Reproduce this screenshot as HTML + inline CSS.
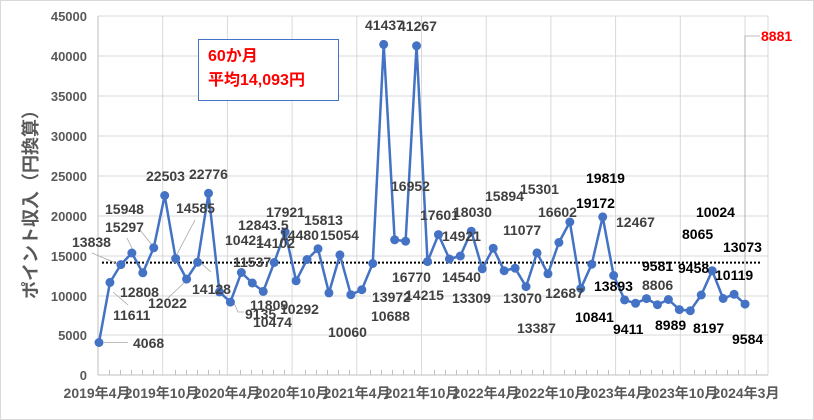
<!DOCTYPE html>
<html><head><meta charset="utf-8"><style>
html,body{margin:0;padding:0;background:#fff}
svg{display:block}
.l{font:bold 14px "Liberation Sans","Noto Sans CJK JP",sans-serif;fill:#404040}
.k{font:bold 14px "Liberation Sans","Noto Sans CJK JP",sans-serif;fill:#000}
.ax{font:bold 13px "Liberation Sans","Noto Sans CJK JP",sans-serif;fill:#595959}
.xa{font:bold 14px "Liberation Sans","Noto Sans CJK JP",sans-serif;fill:#595959}
</style></head><body>
<svg width="814" height="420" xmlns="http://www.w3.org/2000/svg">
<rect x="0.5" y="0.5" width="813" height="419" fill="#fff" stroke="#d9d9d9"/>
<g stroke="#d9d9d9" stroke-width="1">
<line x1="98" y1="16" x2="768" y2="16"/><line x1="98" y1="56" x2="768" y2="56"/><line x1="98" y1="96" x2="768" y2="96"/><line x1="98" y1="136" x2="768" y2="136"/><line x1="98" y1="176" x2="768" y2="176"/><line x1="98" y1="216" x2="768" y2="216"/><line x1="98" y1="256" x2="768" y2="256"/><line x1="98" y1="296" x2="768" y2="296"/><line x1="98" y1="335" x2="768" y2="335"/>
<line x1="162.7" y1="16" x2="162.7" y2="375"/><line x1="227.4" y1="16" x2="227.4" y2="375"/><line x1="292.1" y1="16" x2="292.1" y2="375"/><line x1="356.8" y1="16" x2="356.8" y2="375"/><line x1="421.5" y1="16" x2="421.5" y2="375"/><line x1="486.2" y1="16" x2="486.2" y2="375"/><line x1="550.9" y1="16" x2="550.9" y2="375"/><line x1="615.6" y1="16" x2="615.6" y2="375"/><line x1="680.3" y1="16" x2="680.3" y2="375"/><line x1="745" y1="16" x2="745" y2="375"/><line x1="768" y1="16" x2="768" y2="375"/>
</g>
<line x1="98" y1="16" x2="98" y2="375" stroke="#bfbfbf"/>
<line x1="98" y1="375" x2="768" y2="375" stroke="#bfbfbf"/>
<path stroke="#bfbfbf" d="M109.5 370V375M120.5 370V375M131.5 370V375M142.5 370V375M153.5 370V375M175.5 370V375M186.5 370V375M197.5 370V375M208.5 370V375M219.5 370V375M240.5 370V375M251.5 370V375M262.5 370V375M273.5 370V375M284.5 370V375M305.5 370V375M316.5 370V375M327.5 370V375M338.5 370V375M349.5 370V375M370.5 370V375M381.5 370V375M392.5 370V375M403.5 370V375M414.5 370V375M434.5 370V375M445.5 370V375M456.5 370V375M467.5 370V375M478.5 370V375M499.5 370V375M510.5 370V375M521.5 370V375M532.5 370V375M543.5 370V375M564.5 370V375M575.5 370V375M586.5 370V375M597.5 370V375M608.5 370V375M629.5 370V375M640.5 370V375M651.5 370V375M662.5 370V375M673.5 370V375M694.5 370V375M705.5 370V375M716.5 370V375M727.5 370V375M738.5 370V375M756.5 370V375"/>
<g class="ax" text-anchor="end">
<text x="87" y="21">45000</text><text x="87" y="61">40000</text><text x="87" y="101">35000</text><text x="87" y="141">30000</text><text x="87" y="181">25000</text><text x="87" y="221">20000</text><text x="87" y="261">15000</text><text x="87" y="301">10000</text><text x="87" y="340">5000</text><text x="87" y="380">0</text>
</g>
<g class="xa" text-anchor="middle">
<text x="97" y="398">2019年4月</text><text x="162" y="398">2019年10月</text><text x="227" y="398">2020年4月</text><text x="292" y="398">2020年10月</text><text x="357" y="398">2021年4月</text><text x="422" y="398">2021年10月</text><text x="486" y="398">2022年4月</text><text x="551" y="398">2022年10月</text><text x="616" y="398">2023年4月</text><text x="681" y="398">2023年10月</text><text x="746" y="398">2024年3月</text>
</g>
<text transform="translate(37,200) rotate(-90)" text-anchor="middle" style="font:bold 18px 'Liberation Sans','Noto Sans CJK JP',sans-serif;fill:#595959">ポイント収入（円換算）</text>
<line x1="102" y1="262.6" x2="762" y2="262.6" stroke="#000" stroke-width="2" stroke-dasharray="2,2"/>
<g stroke="#a6a6a6" stroke-width="0.8" fill="none">
<path d="M104 342.5H128"/><path d="M92 253L118 264"/><path d="M113 292L128 305"/><path d="M127 238L134 252"/><path d="M140 230L152 245"/><path d="M195 220L176 256"/><path d="M202 264L211 272"/><path d="M168 298L186 281"/><path d="M234 303L238 312H244"/><path d="M745 300V36H760"/>
</g>
<polyline fill="none" stroke="#4472c4" stroke-width="2.5" stroke-linejoin="round" points="99,342.5 109.95,282.4 120.9,264.6 131.85,253 142.8,272.8 153.75,247.8 164.7,195.5 175.65,258.6 186.6,279.1 197.55,262.3 208.5,193.3 219.45,291.9 230.4,302.1 241.35,272.5 252.3,283 263.25,291.4 274.2,262.5 285.15,232 296.1,280.8 307.05,259.5 318,248.8 328.95,292.9 339.9,254.9 350.85,294.7 361.8,289.7 372.75,263.5 383.7,44.4 394.65,239.8 405.6,241.2 416.55,45.8 427.5,261.6 438.45,234.6 449.4,259 460.35,256 471.3,231.2 482.25,268.8 493.2,248.2 504.15,270.7 515.1,268.2 526.05,286.6 537,252.9 547.95,273.8 558.9,242.5 569.85,222 580.8,288.5 591.75,264.2 602.7,216.9 613.65,275.5 624.6,299.9 635.55,303.3 646.5,298.6 657.45,304.7 668.4,299.5 679.35,309.6 690.3,310.7 701.25,295 712.2,270.7 723.15,298.5 734.1,294.3 745.05,304.1"/>
<g fill="#4472c4">
<circle cx="99" cy="342.5" r="4.5"/><circle cx="109.95" cy="282.4" r="4.5"/><circle cx="120.9" cy="264.6" r="4.5"/><circle cx="131.85" cy="253" r="4.5"/><circle cx="142.8" cy="272.8" r="4.5"/><circle cx="153.75" cy="247.8" r="4.5"/><circle cx="164.7" cy="195.5" r="4.5"/><circle cx="175.65" cy="258.6" r="4.5"/><circle cx="186.6" cy="279.1" r="4.5"/><circle cx="197.55" cy="262.3" r="4.5"/><circle cx="208.5" cy="193.3" r="4.5"/><circle cx="219.45" cy="291.9" r="4.5"/><circle cx="230.4" cy="302.1" r="4.5"/><circle cx="241.35" cy="272.5" r="4.5"/><circle cx="252.3" cy="283" r="4.5"/><circle cx="263.25" cy="291.4" r="4.5"/><circle cx="274.2" cy="262.5" r="4.5"/><circle cx="285.15" cy="232" r="4.5"/><circle cx="296.1" cy="280.8" r="4.5"/><circle cx="307.05" cy="259.5" r="4.5"/><circle cx="318" cy="248.8" r="4.5"/><circle cx="328.95" cy="292.9" r="4.5"/><circle cx="339.9" cy="254.9" r="4.5"/><circle cx="350.85" cy="294.7" r="4.5"/><circle cx="361.8" cy="289.7" r="4.5"/><circle cx="372.75" cy="263.5" r="4.5"/><circle cx="383.7" cy="44.4" r="4.5"/><circle cx="394.65" cy="239.8" r="4.5"/><circle cx="405.6" cy="241.2" r="4.5"/><circle cx="416.55" cy="45.8" r="4.5"/><circle cx="427.5" cy="261.6" r="4.5"/><circle cx="438.45" cy="234.6" r="4.5"/><circle cx="449.4" cy="259" r="4.5"/><circle cx="460.35" cy="256" r="4.5"/><circle cx="471.3" cy="231.2" r="4.5"/><circle cx="482.25" cy="268.8" r="4.5"/><circle cx="493.2" cy="248.2" r="4.5"/><circle cx="504.15" cy="270.7" r="4.5"/><circle cx="515.1" cy="268.2" r="4.5"/><circle cx="526.05" cy="286.6" r="4.5"/><circle cx="537" cy="252.9" r="4.5"/><circle cx="547.95" cy="273.8" r="4.5"/><circle cx="558.9" cy="242.5" r="4.5"/><circle cx="569.85" cy="222" r="4.5"/><circle cx="580.8" cy="288.5" r="4.5"/><circle cx="591.75" cy="264.2" r="4.5"/><circle cx="602.7" cy="216.9" r="4.5"/><circle cx="613.65" cy="275.5" r="4.5"/><circle cx="624.6" cy="299.9" r="4.5"/><circle cx="635.55" cy="303.3" r="4.5"/><circle cx="646.5" cy="298.6" r="4.5"/><circle cx="657.45" cy="304.7" r="4.5"/><circle cx="668.4" cy="299.5" r="4.5"/><circle cx="679.35" cy="309.6" r="4.5"/><circle cx="690.3" cy="310.7" r="4.5"/><circle cx="701.25" cy="295" r="4.5"/><circle cx="712.2" cy="270.7" r="4.5"/><circle cx="723.15" cy="298.5" r="4.5"/><circle cx="734.1" cy="294.3" r="4.5"/><circle cx="745.05" cy="304.1" r="4.5"/>
</g>
<g class="l">
<text x="133" y="348">4068</text><text x="113" y="320">11611</text><text x="72" y="247">13838</text><text x="105" y="232">15297</text><text x="105" y="214">15948</text><text x="120" y="297">12808</text><text x="146" y="181">22503</text><text x="148" y="308">12022</text><text x="176" y="213">14585</text><text x="192" y="294">14128</text><text x="189" y="179">22776</text><text x="225" y="245">10421</text><text x="245" y="319">9135</text><text x="238" y="230">12843.5</text><text x="233" y="267">11537</text><text x="256" y="248">14102</text><text x="266" y="217">17921</text><text x="250" y="310">11809</text><text x="280" y="314">10292</text><text x="253" y="327">10474</text><text x="280" y="240">14480</text><text x="304" y="225">15813</text><text x="320" y="240">15054</text><text x="328" y="337">10060</text><text x="372" y="302">13972</text><text x="371" y="321">10688</text><text x="365" y="30">41437</text><text x="398" y="31">41267</text><text x="391" y="191">16952</text><text x="392" y="282">16770</text><text x="405" y="300">14215</text><text x="420" y="220">17601</text><text x="442" y="241">14921</text><text x="453" y="217">18030</text><text x="442" y="282">14540</text><text x="452" y="303">13309</text><text x="485" y="201">15894</text><text x="520" y="194">15301</text><text x="503" y="235">11077</text><text x="503" y="303">13070</text><text x="517" y="333">13387</text><text x="538" y="217">16602</text><text x="545" y="298">12687</text><text x="616" y="227">12467</text><text x="642" y="290">8806</text>
</g>
<g class="k">
<text x="576" y="208">19172</text><text x="575" y="322">10841</text><text x="586" y="183">19819</text><text x="594" y="291">13893</text><text x="613" y="334">9411</text><text x="642" y="271">9581</text><text x="655" y="330">8989</text><text x="678" y="273">9458</text><text x="682" y="239">8065</text><text x="696" y="217">10024</text><text x="693" y="333">8197</text><text x="723" y="252">13073</text><text x="715" y="280">10119</text><text x="732" y="344">9584</text>
</g>
<text x="761" y="41" style="font:bold 14px 'Liberation Sans',sans-serif;fill:#ff0000">8881</text>
<rect x="198.5" y="39.5" width="140" height="61" fill="#fff" stroke="#4472c4"/>
<text x="208" y="61" style="font:bold 16px 'Liberation Sans','Noto Sans CJK JP',sans-serif;fill:#ff0000">60か月</text>
<text x="208" y="85" style="font:bold 16px 'Liberation Sans','Noto Sans CJK JP',sans-serif;fill:#ff0000">平均14,093円</text>
</svg>
</body></html>
